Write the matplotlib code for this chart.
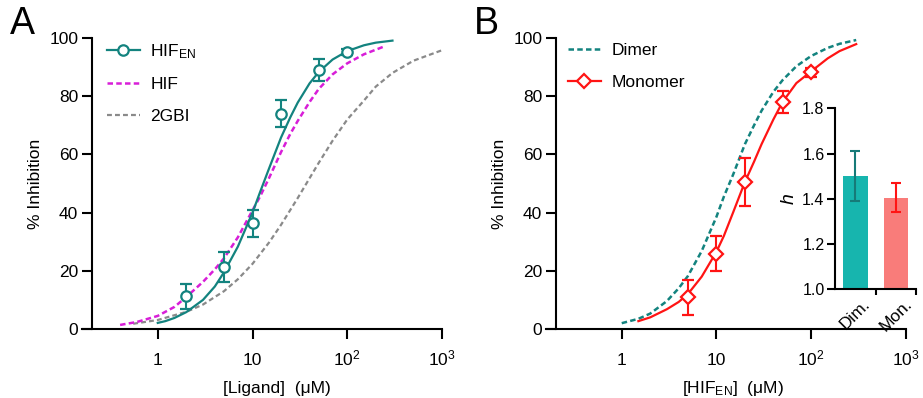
import numpy as np
import matplotlib
matplotlib.use('Agg')
import matplotlib.pyplot as plt
from matplotlib.lines import Line2D

plt.rcParams['font.family'] = ['Liberation Sans', 'DejaVu Sans']
plt.rcParams['mathtext.fontset'] = 'custom'
plt.rcParams['mathtext.rm'] = 'Liberation Sans'
plt.rcParams['mathtext.it'] = 'Liberation Sans:italic'

FS = 12.5
TEAL = '#13837f'
MAGENTA = '#d81ed8'
GRAY = '#8a8a8a'
RED = '#ff1414'

# ---- panel A : measured HIF_EN points (mean, error)
a_x = [2, 5, 10, 20, 50, 100]
a_y = [11.2, 21.3, 36.3, 74.0, 89.0, 95.1]
a_err = [4.2, 5.0, 4.6, 4.7, 3.7, 1.0]

# fitted curves
hifen_x = [1, 1.2, 1.5, 2, 3, 4, 5, 7, 10, 12, 15, 20, 25, 30, 40, 50, 70, 100, 150, 200, 300]
hifen_y = [2.1, 2.7, 3.8, 5.8, 10.0, 14.6, 19.5, 28.3, 40.0, 47.0, 55.3, 65.8, 72.7, 77.8, 84.4,
           88.3, 92.6, 95.5, 97.5, 98.4, 99.1]

hif_x = [0.4, 0.6, 1, 1.5, 2, 3, 4, 5, 7, 10, 12, 15, 20, 25, 30, 40, 50, 70, 100, 150, 250]
hif_y = [1.4, 2.4, 4.5, 7.6, 11.0, 16.2, 20.5, 24.3, 31.5, 40.8, 45.5, 52.0, 60.8, 67.0, 71.5,
         78.0, 82.5, 87.5, 91.3, 94.4, 97.2]

gbi_x = [0.55, 1, 2, 3, 5, 7, 10, 15, 20, 30, 50, 70, 100, 150, 200, 300, 500, 1000]
gbi_y = [1.8, 3.1, 5.9, 8.4, 13.0, 17.1, 22.4, 29.8, 35.8, 45.0, 57.1, 64.7, 72.0, 78.5, 83.3, 88.0, 92.2, 95.8]

# ---- panel B : measured monomer points
b_x = [5, 10, 20, 50, 100]
b_y = [10.9, 25.9, 50.4, 78.0, 88.2]
b_err = [6.1, 5.9, 8.3, 3.7, 1.5]

dimer_x = [1, 1.5, 2, 3, 4, 5, 7, 10, 12, 15, 20, 25, 30, 40, 50, 70, 100, 150, 200, 300]
dimer_y = [2.0, 3.5, 5.3, 9.6, 14.0, 18.2, 26.8, 38.5, 45.5, 53.0, 63.5, 70.0, 75.0, 81.5,
           85.5, 90.3, 93.8, 96.6, 98.0, 99.3]

mono_x = [1.5, 2, 3, 4, 5, 7, 10, 12, 15, 20, 25, 30, 40, 50, 70, 100, 150, 200, 300]
mono_y = [2.7, 4.0, 6.8, 9.3, 12.0, 18.0, 26.5, 32.0, 40.0, 50.5, 57.5, 63.5, 72.0, 78.0,
          84.5, 88.5, 93.0, 95.5, 97.9]

# ---- inset : Hill coefficients
h_names = ['Dim.', 'Mon.']
h_vals = [1.50, 1.405]
h_err = [0.11, 0.065]

xticks = [1, 10, 100, 1000]
xticklabels = ['1', '10', r'$\mathregular{10^2}$', r'$\mathregular{10^3}$']

W, H = 923, 398
fig = plt.figure(figsize=(W / 100, H / 100), dpi=100)


def style(ax, xlabel, xlab_x):
    ax.set_xscale('log')
    ax.set_xlim(10 ** -0.8, 1000)
    ax.set_ylim(0, 100)
    for s in ['top', 'right']:
        ax.spines[s].set_visible(False)
    for s in ['left', 'bottom']:
        ax.spines[s].set_linewidth(1.5)
    ax.spines['left'].set_position(('axes', 0.0285))
    ax.set_xticks(xticks)
    ax.set_xticklabels(xticklabels, va='baseline')
    ax.xaxis.set_minor_locator(matplotlib.ticker.NullLocator())
    ax.set_yticks(range(0, 101, 20))
    ax.tick_params(axis='both', direction='out', length=7, width=1.5, labelsize=FS)
    ax.tick_params(axis='x', pad=19)
    ax.tick_params(axis='y', pad=3)
    ax.set_ylabel('% Inhibition', fontsize=FS, va='center')
    ax.yaxis.set_label_coords(-0.13, 0.5)
    ax.set_xlabel(xlabel, fontsize=FS, va='baseline')
    ax.xaxis.set_label_coords(xlab_x, -0.22)


# ================= panel A
axA = fig.add_axes([82 / W, 69 / H, 360 / W, 291 / H])
style(axA, '[Ligand]  (μM)', 0.54)
axA.plot(gbi_x, gbi_y, color=GRAY, lw=1.6, dashes=(2.2, 1.4))
axA.plot(hif_x, hif_y, color=MAGENTA, lw=1.8, dashes=(2.2, 1.3))
axA.plot(hifen_x, hifen_y, color=TEAL, lw=1.6)
axA.errorbar(a_x, a_y, yerr=a_err, fmt='o', ms=7.5, mfc='white', mec=TEAL, mew=1.6,
             ecolor=TEAL, elinewidth=1.5, capsize=4, capthick=1.5, zorder=5)

hA = [Line2D([], [], color=TEAL, lw=1.6, marker='o', ms=7.5, mfc='white', mec=TEAL, mew=1.6),
      Line2D([], [], color=MAGENTA, lw=1.8, dashes=(2.2, 1.3)),
      Line2D([], [], color=GRAY, lw=1.6, dashes=(2.2, 1.4))]
axA.legend(hA, [r'HIF$_{\mathregular{EN}}$', 'HIF', '2GBI'], loc='upper left',
           bbox_to_anchor=(107 / W, 1 - 42 / H), bbox_transform=fig.transFigure,
           frameon=False, fontsize=FS, handlelength=1.9, handletextpad=0.6,
           labelspacing=0.95, borderpad=0, borderaxespad=0)

# ================= panel B
axB = fig.add_axes([546 / W, 69 / H, 359.7 / W, 291 / H])
style(axB, r'[HIF$_{\mathregular{EN}}$]  (μM)', 0.52)
axB.plot(dimer_x, dimer_y, color=TEAL, lw=1.8, dashes=(2.2, 1.3))
axB.plot(mono_x, mono_y, color=RED, lw=1.6)
axB.errorbar(b_x, b_y, yerr=b_err, fmt='D', ms=7, mfc='white', mec=RED, mew=1.6,
             ecolor=RED, elinewidth=1.5, capsize=4, capthick=1.5, zorder=5)

hB = [Line2D([], [], color=TEAL, lw=1.8, dashes=(2.2, 1.3)),
      Line2D([], [], color=RED, lw=1.6, marker='D', ms=7, mfc='white', mec=RED, mew=1.6)]
axB.legend(hB, ['Dimer', 'Monomer'], loc='upper left',
           bbox_to_anchor=(568 / W, 1 - 43 / H), bbox_transform=fig.transFigure,
           frameon=False, fontsize=FS, handlelength=1.9, handletextpad=0.6,
           labelspacing=0.95, borderpad=0, borderaxespad=0)

# ================= inset
axI = fig.add_axes([835 / W, (H - 289.3) / H, 81.2 / W, 181 / H])
pos = np.arange(len(h_names))
axI.bar(pos, h_vals, width=0.61, color=['#17b5ae', '#f97c7a'])
for p, v, e, c in zip(pos, h_vals, h_err, ['#167a78', RED]):
    axI.errorbar(p, v, yerr=e, fmt='none', ecolor=c, elinewidth=1.5, capsize=3.5, capthick=1.5)
axI.set_xlim(-0.5, 1.5)
axI.set_ylim(1.0, 1.8)
axI.set_yticks([1.0, 1.2, 1.4, 1.6, 1.8])
axI.set_yticklabels(['1.0', '1.2', '1.4', '1.6', '1.8'])
axI.set_xticks(pos)
axI.set_xticklabels(h_names, rotation=45, ha='center', va='top', fontsize=FS)
axI.set_xticks([0.5, 1.5], minor=True)
axI.tick_params(axis='x', which='major', length=0, pad=5)
axI.tick_params(axis='x', which='minor', length=4, width=1.5, direction='out')
axI.tick_params(axis='y', length=5.5, width=1.5, labelsize=11.5, pad=2)
for s in ['top', 'right']:
    axI.spines[s].set_visible(False)
for s in ['left', 'bottom']:
    axI.spines[s].set_linewidth(1.5)
axI.set_ylabel('h', fontsize=14, fontstyle='italic', va='center')
axI.yaxis.set_label_coords(-0.56, 0.5)

# panel letters
fig.text(10 / W, 1 - 24 / H, 'A', fontsize=27, va='center', ha='left')
fig.text(474 / W, 1 - 24 / H, 'B', fontsize=27, va='center', ha='left')

fig.savefig('out.png', dpi=100)
